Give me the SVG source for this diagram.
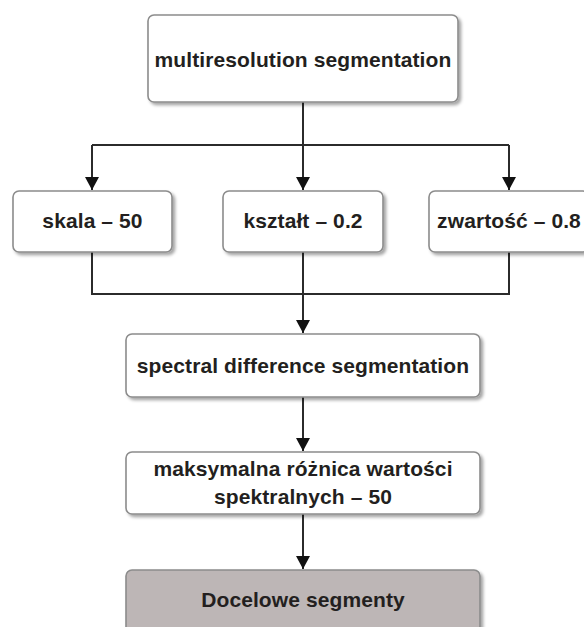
<svg xmlns="http://www.w3.org/2000/svg" width="584" height="627" viewBox="0 0 584 627">
  <style>
    .box { fill: #ffffff; stroke: #8c8c8c; stroke-width: 1.6; filter: url(#shadow); }
    .box.final { fill: #bdb6b6; }
    .label { font-family: "Liberation Sans", Arial, sans-serif; font-weight: bold; font-size: 21px; letter-spacing: 0.1px; fill: #231f20; text-anchor: middle; }
    .wire { fill: none; stroke: #2b2b2b; stroke-width: 2; }
  </style>
  <defs>
    <filter id="shadow" x="-10%" y="-10%" width="130%" height="140%">
      <feDropShadow dx="2.5" dy="2.5" stdDeviation="1.6" flood-color="#000000" flood-opacity="0.35"/>
    </filter>
    <marker id="arrow" viewBox="0 0 14 14" refX="13" refY="7" markerWidth="14" markerHeight="14" markerUnits="userSpaceOnUse" orient="auto">
      <path d="M0,0 L13,7 L0,14 Z" fill="#111111"/>
    </marker>
  </defs>

  <rect width="584" height="627" fill="#ffffff"/>

  <g id="connectors">
    <!-- split from multiresolution segmentation into three parameters -->
    <path class="wire" d="M303,102 V145"/>
    <path class="wire" d="M92,145 H509"/>
    <path class="wire" d="M92,145 V190" marker-end="url(#arrow)"/>
    <path class="wire" d="M303,145 V190" marker-end="url(#arrow)"/>
    <path class="wire" d="M509,145 V190" marker-end="url(#arrow)"/>
    <!-- merge of parameters into spectral difference segmentation -->
    <path class="wire" d="M92,252 V294 H509 V252"/>
    <path class="wire" d="M303,252 V333" marker-end="url(#arrow)"/>
    <path class="wire" d="M303,397 V451" marker-end="url(#arrow)"/>
    <path class="wire" d="M303,514 V569" marker-end="url(#arrow)"/>
  </g>

  <g id="multiresolution">
    <rect class="box" x="148" y="15" width="310" height="87" rx="6"/>
    <text class="label" x="303" y="67">multiresolution segmentation</text>
  </g>

  <g id="skala">
    <rect class="box" x="13" y="191" width="159" height="61" rx="6"/>
    <text class="label" x="92.5" y="228">skala – 50</text>
  </g>

  <g id="ksztalt">
    <rect class="box" x="223" y="191" width="160" height="61" rx="6"/>
    <text class="label" x="303" y="228">kształt – 0.2</text>
  </g>

  <g id="zwartosc">
    <rect class="box" x="429" y="191" width="160" height="61" rx="6"/>
    <text class="label" x="509" y="228">zwartość – 0.8</text>
  </g>

  <g id="spectral">
    <rect class="box" x="126" y="334" width="354" height="63" rx="6"/>
    <text class="label" x="303" y="373">spectral difference segmentation</text>
  </g>

  <g id="maksymalna">
    <rect class="box" x="126" y="452" width="354" height="62" rx="6"/>
    <text class="label" x="303" y="476">maksymalna różnica wartości</text>
    <text class="label" x="303" y="504">spektralnych – 50</text>
  </g>

  <g id="docelowe">
    <rect class="box final" x="126" y="570" width="354" height="70" rx="6"/>
    <text class="label" x="303" y="607">Docelowe segmenty</text>
  </g>
</svg>
